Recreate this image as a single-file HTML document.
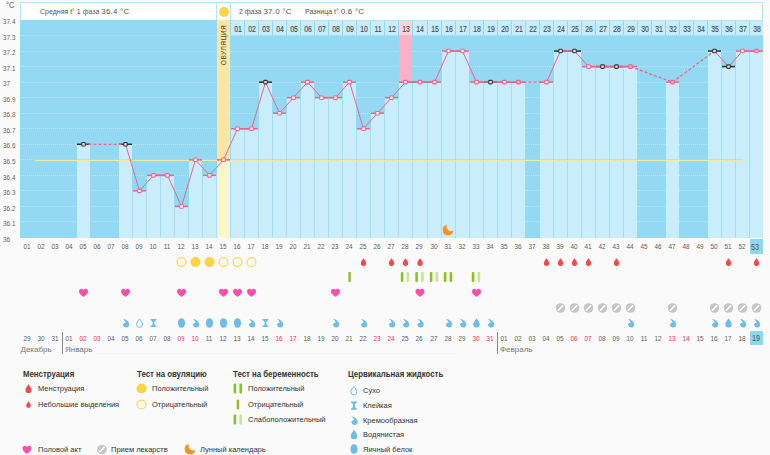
<!DOCTYPE html><html><head><meta charset="utf-8"><style>
*{margin:0;padding:0;box-sizing:border-box}
html,body{width:770px;height:455px;overflow:hidden;background:#fafafa;font-family:"Liberation Sans",sans-serif;color:#555}
.a{position:absolute}
.t{position:absolute;white-space:nowrap;line-height:1}

</style></head><body>
<svg class="a" style="left:0;top:0" width="770" height="455" viewBox="0 0 770 455" shape-rendering="crispEdges"><rect x="20" y="2" width="743" height="18" fill="#fff"/><rect x="20" y="2" width="743" height="1" fill="#b7e4f7"/><rect x="20" y="2" width="1" height="18" fill="#b7e4f7"/><rect x="762" y="2" width="1" height="18" fill="#b7e4f7"/><rect x="216" y="2" width="1" height="18" fill="#b7e4f7"/><rect x="230" y="2" width="1" height="18" fill="#b7e4f7"/><rect x="20" y="20" width="743" height="218" fill="#93d9f3"/><g fill="none" stroke="rgba(255,255,255,0.38)" stroke-width="1" stroke-dasharray="1 1"><line x1="21" y1="221.5" x2="762" y2="221.5"/><line x1="21" y1="206.5" x2="762" y2="206.5"/><line x1="21" y1="190.5" x2="762" y2="190.5"/><line x1="21" y1="175.5" x2="762" y2="175.5"/><line x1="21" y1="159.5" x2="762" y2="159.5"/><line x1="21" y1="144.5" x2="762" y2="144.5"/><line x1="21" y1="128.5" x2="762" y2="128.5"/><line x1="21" y1="113.5" x2="762" y2="113.5"/><line x1="21" y1="97.5" x2="762" y2="97.5"/><line x1="21" y1="82.5" x2="762" y2="82.5"/><line x1="21" y1="66.5" x2="762" y2="66.5"/><line x1="21" y1="51.5" x2="762" y2="51.5"/><line x1="21" y1="35.5" x2="762" y2="35.5"/></g><rect x="77" y="144" width="13" height="94" fill="#caedfc"/><rect x="119" y="144" width="13" height="94" fill="#caedfc"/><rect x="133" y="191" width="13" height="47" fill="#caedfc"/><rect x="147" y="175" width="13" height="63" fill="#caedfc"/><rect x="161" y="175" width="13" height="63" fill="#caedfc"/><rect x="175" y="206" width="13" height="32" fill="#caedfc"/><rect x="189" y="160" width="13" height="78" fill="#caedfc"/><rect x="203" y="175" width="13" height="63" fill="#caedfc"/><rect x="217" y="20" width="13" height="218" fill="#fbe7a3"/><rect x="217" y="160" width="13" height="78" fill="#fdf5cc"/><rect x="231" y="129" width="13" height="109" fill="#caedfc"/><rect x="245" y="129" width="13" height="109" fill="#caedfc"/><rect x="259" y="82" width="13" height="156" fill="#caedfc"/><rect x="273" y="113" width="13" height="125" fill="#caedfc"/><rect x="287" y="98" width="13" height="140" fill="#caedfc"/><rect x="301" y="82" width="13" height="156" fill="#caedfc"/><rect x="315" y="98" width="13" height="140" fill="#caedfc"/><rect x="329" y="98" width="13" height="140" fill="#caedfc"/><rect x="343" y="82" width="13" height="156" fill="#caedfc"/><rect x="357" y="129" width="13" height="109" fill="#caedfc"/><rect x="371" y="113" width="13" height="125" fill="#caedfc"/><rect x="385" y="98" width="13" height="140" fill="#caedfc"/><rect x="399" y="20" width="13" height="62" fill="#fcb0c6"/><rect x="399" y="82" width="13" height="156" fill="#caedfc"/><rect x="413" y="82" width="14" height="156" fill="#caedfc"/><rect x="428" y="82" width="13" height="156" fill="#caedfc"/><rect x="442" y="51" width="13" height="187" fill="#caedfc"/><rect x="456" y="51" width="13" height="187" fill="#caedfc"/><rect x="470" y="82" width="13" height="156" fill="#caedfc"/><rect x="484" y="82" width="13" height="156" fill="#caedfc"/><rect x="498" y="82" width="13" height="156" fill="#caedfc"/><rect x="512" y="82" width="13" height="156" fill="#caedfc"/><rect x="540" y="82" width="13" height="156" fill="#caedfc"/><rect x="554" y="51" width="13" height="187" fill="#caedfc"/><rect x="568" y="51" width="13" height="187" fill="#caedfc"/><rect x="582" y="67" width="13" height="171" fill="#caedfc"/><rect x="596" y="67" width="13" height="171" fill="#caedfc"/><rect x="610" y="67" width="13" height="171" fill="#caedfc"/><rect x="624" y="67" width="13" height="171" fill="#caedfc"/><rect x="666" y="82" width="13" height="156" fill="#caedfc"/><rect x="708" y="51" width="13" height="187" fill="#caedfc"/><rect x="722" y="67" width="13" height="171" fill="#caedfc"/><rect x="736" y="51" width="13" height="187" fill="#caedfc"/><rect x="750" y="51" width="13" height="187" fill="#caedfc"/><rect x="132" y="191" width="1" height="47" fill="#a3dff6"/><rect x="146" y="191" width="1" height="47" fill="#a3dff6"/><rect x="160" y="175" width="1" height="63" fill="#a3dff6"/><rect x="174" y="206" width="1" height="32" fill="#a3dff6"/><rect x="188" y="206" width="1" height="32" fill="#a3dff6"/><rect x="202" y="175" width="1" height="63" fill="#a3dff6"/><rect x="216" y="175" width="1" height="63" fill="#a3dff6"/><rect x="230" y="160" width="1" height="78" fill="#a3dff6"/><rect x="244" y="129" width="1" height="109" fill="#a3dff6"/><rect x="258" y="129" width="1" height="109" fill="#a3dff6"/><rect x="272" y="113" width="1" height="125" fill="#a3dff6"/><rect x="286" y="113" width="1" height="125" fill="#a3dff6"/><rect x="300" y="98" width="1" height="140" fill="#a3dff6"/><rect x="314" y="98" width="1" height="140" fill="#a3dff6"/><rect x="328" y="98" width="1" height="140" fill="#a3dff6"/><rect x="342" y="98" width="1" height="140" fill="#a3dff6"/><rect x="356" y="129" width="1" height="109" fill="#a3dff6"/><rect x="370" y="129" width="1" height="109" fill="#a3dff6"/><rect x="384" y="113" width="1" height="125" fill="#a3dff6"/><rect x="398" y="98" width="1" height="140" fill="#a3dff6"/><rect x="412" y="82" width="1" height="156" fill="#a3dff6"/><rect x="427" y="82" width="1" height="156" fill="#a3dff6"/><rect x="441" y="82" width="1" height="156" fill="#a3dff6"/><rect x="455" y="51" width="1" height="187" fill="#a3dff6"/><rect x="469" y="82" width="1" height="156" fill="#a3dff6"/><rect x="483" y="82" width="1" height="156" fill="#a3dff6"/><rect x="497" y="82" width="1" height="156" fill="#a3dff6"/><rect x="511" y="82" width="1" height="156" fill="#a3dff6"/><rect x="553" y="82" width="1" height="156" fill="#a3dff6"/><rect x="567" y="51" width="1" height="187" fill="#a3dff6"/><rect x="581" y="67" width="1" height="171" fill="#a3dff6"/><rect x="595" y="67" width="1" height="171" fill="#a3dff6"/><rect x="609" y="67" width="1" height="171" fill="#a3dff6"/><rect x="623" y="67" width="1" height="171" fill="#a3dff6"/><rect x="721" y="67" width="1" height="171" fill="#a3dff6"/><rect x="735" y="67" width="1" height="171" fill="#a3dff6"/><rect x="749" y="51" width="1" height="187" fill="#a3dff6"/><rect x="231" y="21" width="13" height="14" fill="#c9ecfb"/><rect x="245" y="21" width="13" height="14" fill="#c9ecfb"/><rect x="259" y="21" width="13" height="14" fill="#c9ecfb"/><rect x="273" y="21" width="13" height="14" fill="#c9ecfb"/><rect x="287" y="21" width="13" height="14" fill="#c9ecfb"/><rect x="301" y="21" width="13" height="14" fill="#c9ecfb"/><rect x="315" y="21" width="13" height="14" fill="#c9ecfb"/><rect x="329" y="21" width="13" height="14" fill="#c9ecfb"/><rect x="343" y="21" width="13" height="14" fill="#c9ecfb"/><rect x="357" y="21" width="13" height="14" fill="#c9ecfb"/><rect x="371" y="21" width="13" height="14" fill="#c9ecfb"/><rect x="385" y="21" width="13" height="14" fill="#c9ecfb"/><rect x="399" y="21" width="13" height="14" fill="#fbd3df"/><rect x="413" y="21" width="14" height="14" fill="#c9ecfb"/><rect x="428" y="21" width="13" height="14" fill="#c9ecfb"/><rect x="442" y="21" width="13" height="14" fill="#c9ecfb"/><rect x="456" y="21" width="13" height="14" fill="#c9ecfb"/><rect x="470" y="21" width="13" height="14" fill="#c9ecfb"/><rect x="484" y="21" width="13" height="14" fill="#c9ecfb"/><rect x="498" y="21" width="13" height="14" fill="#c9ecfb"/><rect x="512" y="21" width="13" height="14" fill="#c9ecfb"/><rect x="526" y="21" width="13" height="14" fill="#c9ecfb"/><rect x="540" y="21" width="13" height="14" fill="#c9ecfb"/><rect x="554" y="21" width="13" height="14" fill="#c9ecfb"/><rect x="568" y="21" width="13" height="14" fill="#c9ecfb"/><rect x="582" y="21" width="13" height="14" fill="#c9ecfb"/><rect x="596" y="21" width="13" height="14" fill="#c9ecfb"/><rect x="610" y="21" width="13" height="14" fill="#c9ecfb"/><rect x="624" y="21" width="13" height="14" fill="#c9ecfb"/><rect x="638" y="21" width="13" height="14" fill="#c9ecfb"/><rect x="652" y="21" width="13" height="14" fill="#c9ecfb"/><rect x="666" y="21" width="13" height="14" fill="#c9ecfb"/><rect x="680" y="21" width="13" height="14" fill="#c9ecfb"/><rect x="694" y="21" width="13" height="14" fill="#c9ecfb"/><rect x="708" y="21" width="13" height="14" fill="#c9ecfb"/><rect x="722" y="21" width="13" height="14" fill="#c9ecfb"/><rect x="736" y="21" width="13" height="14" fill="#c9ecfb"/><rect x="750" y="21" width="13" height="14" fill="#c9ecfb"/><rect x="230" y="20" width="533" height="1" fill="#b7e4f7"/><rect x="217" y="20" width="13" height="140" fill="#fbe7a3"/></svg>
<svg class="a" style="left:0;top:0" width="770" height="455" viewBox="0 0 770 455"><rect x="35" y="159" width="708" height="1" fill="#93d9f3" opacity="0.5"/><rect x="35" y="160" width="708" height="1" fill="#efea9e"/><rect x="77" y="143.53" width="13" height="1.5" fill="#2d2d2d"/><rect x="119" y="143.53" width="13" height="1.5" fill="#2d2d2d"/><rect x="133" y="190.14" width="13" height="1.5" fill="#ec6389"/><rect x="147" y="174.61" width="13" height="1.5" fill="#ec6389"/><rect x="161" y="174.61" width="13" height="1.5" fill="#ec6389"/><rect x="175" y="205.68" width="13" height="1.5" fill="#ec6389"/><rect x="189" y="159.07" width="13" height="1.5" fill="#ec6389"/><rect x="203" y="174.61" width="13" height="1.5" fill="#ec6389"/><rect x="217" y="159.07" width="13" height="1.5" fill="#ec6389"/><rect x="231" y="128.00" width="13" height="1.5" fill="#ec6389"/><rect x="245" y="128.00" width="13" height="1.5" fill="#ec6389"/><rect x="259" y="81.39" width="13" height="1.5" fill="#2d2d2d"/><rect x="273" y="112.46" width="13" height="1.5" fill="#ec6389"/><rect x="287" y="96.93" width="13" height="1.5" fill="#ec6389"/><rect x="301" y="81.39" width="13" height="1.5" fill="#ec6389"/><rect x="315" y="96.93" width="13" height="1.5" fill="#ec6389"/><rect x="329" y="96.93" width="13" height="1.5" fill="#ec6389"/><rect x="343" y="81.39" width="13" height="1.5" fill="#ec6389"/><rect x="357" y="128.00" width="13" height="1.5" fill="#ec6389"/><rect x="371" y="112.46" width="13" height="1.5" fill="#ec6389"/><rect x="385" y="96.93" width="13" height="1.5" fill="#ec6389"/><rect x="399" y="81.39" width="13" height="1.5" fill="#ec6389"/><rect x="413" y="81.39" width="14" height="1.5" fill="#ec6389"/><rect x="428" y="81.39" width="13" height="1.5" fill="#ec6389"/><rect x="442" y="50.32" width="13" height="1.5" fill="#ec6389"/><rect x="456" y="50.32" width="13" height="1.5" fill="#ec6389"/><rect x="470" y="81.39" width="13" height="1.5" fill="#ec6389"/><rect x="484" y="81.39" width="13" height="1.5" fill="#2d2d2d"/><rect x="498" y="81.39" width="13" height="1.5" fill="#ec6389"/><rect x="512" y="81.39" width="13" height="1.5" fill="#ec6389"/><rect x="540" y="81.39" width="13" height="1.5" fill="#ec6389"/><rect x="554" y="50.32" width="13" height="1.5" fill="#2d2d2d"/><rect x="568" y="50.32" width="13" height="1.5" fill="#2d2d2d"/><rect x="582" y="65.85" width="13" height="1.5" fill="#ec6389"/><rect x="596" y="65.85" width="13" height="1.5" fill="#2d2d2d"/><rect x="610" y="65.85" width="13" height="1.5" fill="#2d2d2d"/><rect x="624" y="65.85" width="13" height="1.5" fill="#ec6389"/><rect x="666" y="81.39" width="13" height="1.5" fill="#ec6389"/><rect x="708" y="50.32" width="13" height="1.5" fill="#2d2d2d"/><rect x="722" y="65.85" width="13" height="1.5" fill="#2d2d2d"/><rect x="736" y="50.32" width="13" height="1.5" fill="#ec6389"/><rect x="750" y="50.32" width="13" height="1.5" fill="#ec6389"/><line x1="83.50" y1="144.28" x2="125.50" y2="144.28" stroke="#ec6389" stroke-width="1.3" stroke-dasharray="3 2"/><line x1="125.50" y1="144.28" x2="139.50" y2="190.89" stroke="#ec6389" stroke-width="1.0"/><line x1="139.50" y1="190.89" x2="153.50" y2="175.36" stroke="#ec6389" stroke-width="1.0"/><line x1="153.50" y1="175.36" x2="167.50" y2="175.36" stroke="#ec6389" stroke-width="1.5"/><line x1="167.50" y1="175.36" x2="181.50" y2="206.43" stroke="#ec6389" stroke-width="1.0"/><line x1="181.50" y1="206.43" x2="195.50" y2="159.82" stroke="#ec6389" stroke-width="1.0"/><line x1="195.50" y1="159.82" x2="209.50" y2="175.36" stroke="#ec6389" stroke-width="1.0"/><line x1="209.50" y1="175.36" x2="223.50" y2="159.82" stroke="#ec6389" stroke-width="1.0"/><line x1="223.50" y1="159.82" x2="237.50" y2="128.75" stroke="#ec6389" stroke-width="1.0"/><line x1="237.50" y1="128.75" x2="251.50" y2="128.75" stroke="#ec6389" stroke-width="1.5"/><line x1="251.50" y1="128.75" x2="265.50" y2="82.14" stroke="#ec6389" stroke-width="1.0"/><line x1="265.50" y1="82.14" x2="279.50" y2="113.21" stroke="#ec6389" stroke-width="1.0"/><line x1="279.50" y1="113.21" x2="293.50" y2="97.68" stroke="#ec6389" stroke-width="1.0"/><line x1="293.50" y1="97.68" x2="307.50" y2="82.14" stroke="#ec6389" stroke-width="1.0"/><line x1="307.50" y1="82.14" x2="321.50" y2="97.68" stroke="#ec6389" stroke-width="1.0"/><line x1="321.50" y1="97.68" x2="335.50" y2="97.68" stroke="#ec6389" stroke-width="1.5"/><line x1="335.50" y1="97.68" x2="349.50" y2="82.14" stroke="#ec6389" stroke-width="1.0"/><line x1="349.50" y1="82.14" x2="363.50" y2="128.75" stroke="#ec6389" stroke-width="1.0"/><line x1="363.50" y1="128.75" x2="377.50" y2="113.21" stroke="#ec6389" stroke-width="1.0"/><line x1="377.50" y1="113.21" x2="391.50" y2="97.68" stroke="#ec6389" stroke-width="1.0"/><line x1="391.50" y1="97.68" x2="405.50" y2="82.14" stroke="#ec6389" stroke-width="1.0"/><line x1="405.50" y1="82.14" x2="420.00" y2="82.14" stroke="#ec6389" stroke-width="1.5"/><line x1="420.00" y1="82.14" x2="434.50" y2="82.14" stroke="#ec6389" stroke-width="1.5"/><line x1="434.50" y1="82.14" x2="448.50" y2="51.07" stroke="#ec6389" stroke-width="1.0"/><line x1="448.50" y1="51.07" x2="462.50" y2="51.07" stroke="#ec6389" stroke-width="1.5"/><line x1="462.50" y1="51.07" x2="476.50" y2="82.14" stroke="#ec6389" stroke-width="1.0"/><line x1="476.50" y1="82.14" x2="490.50" y2="82.14" stroke="#ec6389" stroke-width="1.5"/><line x1="490.50" y1="82.14" x2="504.50" y2="82.14" stroke="#ec6389" stroke-width="1.5"/><line x1="504.50" y1="82.14" x2="518.50" y2="82.14" stroke="#ec6389" stroke-width="1.5"/><line x1="518.50" y1="82.14" x2="546.50" y2="82.14" stroke="#ec6389" stroke-width="1.3" stroke-dasharray="3 2"/><line x1="546.50" y1="82.14" x2="560.50" y2="51.07" stroke="#ec6389" stroke-width="1.0"/><line x1="560.50" y1="51.07" x2="574.50" y2="51.07" stroke="#ec6389" stroke-width="1.5"/><line x1="574.50" y1="51.07" x2="588.50" y2="66.60" stroke="#ec6389" stroke-width="1.0"/><line x1="588.50" y1="66.60" x2="602.50" y2="66.60" stroke="#ec6389" stroke-width="1.5"/><line x1="602.50" y1="66.60" x2="616.50" y2="66.60" stroke="#ec6389" stroke-width="1.5"/><line x1="616.50" y1="66.60" x2="630.50" y2="66.60" stroke="#ec6389" stroke-width="1.5"/><line x1="630.50" y1="66.60" x2="672.50" y2="82.14" stroke="#ec6389" stroke-width="1.3" stroke-dasharray="3 2"/><line x1="672.50" y1="82.14" x2="714.50" y2="51.07" stroke="#ec6389" stroke-width="1.3" stroke-dasharray="3 2"/><line x1="714.50" y1="51.07" x2="728.50" y2="66.60" stroke="#ec6389" stroke-width="1.0"/><line x1="728.50" y1="66.60" x2="742.50" y2="51.07" stroke="#ec6389" stroke-width="1.0"/><line x1="742.50" y1="51.07" x2="756.50" y2="51.07" stroke="#ec6389" stroke-width="1.5"/><rect x="81.75" y="142.53" width="3.5" height="3.5" rx="0.9" fill="rgba(255,255,255,0.85)" stroke="#2d2d2d" stroke-width="1.05"/><rect x="123.75" y="142.53" width="3.5" height="3.5" rx="0.9" fill="rgba(255,255,255,0.85)" stroke="#2d2d2d" stroke-width="1.05"/><rect x="137.75" y="189.14" width="3.5" height="3.5" rx="0.7" fill="#fff" stroke="#ec6389" stroke-width="1.05"/><rect x="151.75" y="173.61" width="3.5" height="3.5" rx="0.7" fill="#fff" stroke="#ec6389" stroke-width="1.05"/><rect x="165.75" y="173.61" width="3.5" height="3.5" rx="0.7" fill="#fff" stroke="#ec6389" stroke-width="1.05"/><rect x="179.75" y="204.68" width="3.5" height="3.5" rx="0.7" fill="#fff" stroke="#ec6389" stroke-width="1.05"/><rect x="193.75" y="158.07" width="3.5" height="3.5" rx="0.7" fill="#fff" stroke="#ec6389" stroke-width="1.05"/><rect x="207.75" y="173.61" width="3.5" height="3.5" rx="0.7" fill="#fff" stroke="#ec6389" stroke-width="1.05"/><rect x="221.75" y="158.07" width="3.5" height="3.5" rx="0.7" fill="#fff" stroke="#ec6389" stroke-width="1.05"/><rect x="235.75" y="127.00" width="3.5" height="3.5" rx="0.7" fill="#fff" stroke="#ec6389" stroke-width="1.05"/><rect x="249.75" y="127.00" width="3.5" height="3.5" rx="0.7" fill="#fff" stroke="#ec6389" stroke-width="1.05"/><rect x="263.75" y="80.39" width="3.5" height="3.5" rx="0.9" fill="rgba(255,255,255,0.85)" stroke="#2d2d2d" stroke-width="1.05"/><rect x="277.75" y="111.46" width="3.5" height="3.5" rx="0.7" fill="#fff" stroke="#ec6389" stroke-width="1.05"/><rect x="291.75" y="95.93" width="3.5" height="3.5" rx="0.7" fill="#fff" stroke="#ec6389" stroke-width="1.05"/><rect x="305.75" y="80.39" width="3.5" height="3.5" rx="0.7" fill="#fff" stroke="#ec6389" stroke-width="1.05"/><rect x="319.75" y="95.93" width="3.5" height="3.5" rx="0.7" fill="#fff" stroke="#ec6389" stroke-width="1.05"/><rect x="333.75" y="95.93" width="3.5" height="3.5" rx="0.7" fill="#fff" stroke="#ec6389" stroke-width="1.05"/><rect x="347.75" y="80.39" width="3.5" height="3.5" rx="0.7" fill="#fff" stroke="#ec6389" stroke-width="1.05"/><rect x="361.75" y="127.00" width="3.5" height="3.5" rx="0.7" fill="#fff" stroke="#ec6389" stroke-width="1.05"/><rect x="375.75" y="111.46" width="3.5" height="3.5" rx="0.7" fill="#fff" stroke="#ec6389" stroke-width="1.05"/><rect x="389.75" y="95.93" width="3.5" height="3.5" rx="0.7" fill="#fff" stroke="#ec6389" stroke-width="1.05"/><rect x="403.75" y="80.39" width="3.5" height="3.5" rx="0.7" fill="#fff" stroke="#ec6389" stroke-width="1.05"/><rect x="418.25" y="80.39" width="3.5" height="3.5" rx="0.7" fill="#fff" stroke="#ec6389" stroke-width="1.05"/><rect x="432.75" y="80.39" width="3.5" height="3.5" rx="0.7" fill="#fff" stroke="#ec6389" stroke-width="1.05"/><rect x="446.75" y="49.32" width="3.5" height="3.5" rx="0.7" fill="#fff" stroke="#ec6389" stroke-width="1.05"/><rect x="460.75" y="49.32" width="3.5" height="3.5" rx="0.7" fill="#fff" stroke="#ec6389" stroke-width="1.05"/><rect x="474.75" y="80.39" width="3.5" height="3.5" rx="0.7" fill="#fff" stroke="#ec6389" stroke-width="1.05"/><rect x="488.75" y="80.39" width="3.5" height="3.5" rx="0.9" fill="rgba(255,255,255,0.85)" stroke="#2d2d2d" stroke-width="1.05"/><rect x="502.75" y="80.39" width="3.5" height="3.5" rx="0.7" fill="#fff" stroke="#ec6389" stroke-width="1.05"/><rect x="516.75" y="80.39" width="3.5" height="3.5" rx="0.7" fill="#f7b3c5" stroke="#ec6389" stroke-width="1.05"/><rect x="544.75" y="80.39" width="3.5" height="3.5" rx="0.7" fill="#fff" stroke="#ec6389" stroke-width="1.05"/><rect x="558.75" y="49.32" width="3.5" height="3.5" rx="0.9" fill="rgba(255,255,255,0.85)" stroke="#2d2d2d" stroke-width="1.05"/><rect x="572.75" y="49.32" width="3.5" height="3.5" rx="0.9" fill="rgba(255,255,255,0.85)" stroke="#2d2d2d" stroke-width="1.05"/><rect x="586.75" y="64.85" width="3.5" height="3.5" rx="0.7" fill="#fff" stroke="#ec6389" stroke-width="1.05"/><rect x="600.75" y="64.85" width="3.5" height="3.5" rx="0.9" fill="rgba(255,255,255,0.85)" stroke="#2d2d2d" stroke-width="1.05"/><rect x="614.75" y="64.85" width="3.5" height="3.5" rx="0.9" fill="rgba(255,255,255,0.85)" stroke="#2d2d2d" stroke-width="1.05"/><rect x="628.75" y="64.85" width="3.5" height="3.5" rx="0.7" fill="#f7b3c5" stroke="#ec6389" stroke-width="1.05"/><rect x="670.75" y="80.39" width="3.5" height="3.5" rx="0.7" fill="#f7b3c5" stroke="#ec6389" stroke-width="1.05"/><rect x="712.75" y="49.32" width="3.5" height="3.5" rx="0.9" fill="rgba(255,255,255,0.85)" stroke="#2d2d2d" stroke-width="1.05"/><rect x="726.75" y="64.85" width="3.5" height="3.5" rx="0.9" fill="rgba(255,255,255,0.85)" stroke="#2d2d2d" stroke-width="1.05"/><rect x="740.75" y="49.32" width="3.5" height="3.5" rx="0.7" fill="#fff" stroke="#ec6389" stroke-width="1.05"/><rect x="754.75" y="49.32" width="3.5" height="3.5" rx="0.7" fill="#f7b3c5" stroke="#ec6389" stroke-width="1.05"/></svg>
<div class="t" style="font-size:8.5px;color:#666;top:0.55px;left:6.3px;transform-origin:0 50%;transform:scaleX(0.9);">°C</div>
<div class="t" style="font-size:8px;color:#666;top:235.70px;left:3.4px;transform-origin:0 50%;transform:scaleX(0.8);">36</div>
<div class="t" style="font-size:8px;color:#666;top:220.16px;left:3.4px;transform-origin:0 50%;transform:scaleX(0.8);">36.1</div>
<div class="t" style="font-size:8px;color:#666;top:204.63px;left:3.4px;transform-origin:0 50%;transform:scaleX(0.8);">36.2</div>
<div class="t" style="font-size:8px;color:#666;top:189.09px;left:3.4px;transform-origin:0 50%;transform:scaleX(0.8);">36.3</div>
<div class="t" style="font-size:8px;color:#666;top:173.56px;left:3.4px;transform-origin:0 50%;transform:scaleX(0.8);">36.4</div>
<div class="t" style="font-size:8px;color:#666;top:158.02px;left:3.4px;transform-origin:0 50%;transform:scaleX(0.8);">36.5</div>
<div class="t" style="font-size:8px;color:#666;top:142.48px;left:3.4px;transform-origin:0 50%;transform:scaleX(0.8);">36.6</div>
<div class="t" style="font-size:8px;color:#666;top:126.95px;left:3.4px;transform-origin:0 50%;transform:scaleX(0.8);">36.7</div>
<div class="t" style="font-size:8px;color:#666;top:111.41px;left:3.4px;transform-origin:0 50%;transform:scaleX(0.8);">36.8</div>
<div class="t" style="font-size:8px;color:#666;top:95.88px;left:3.4px;transform-origin:0 50%;transform:scaleX(0.8);">36.9</div>
<div class="t" style="font-size:8px;color:#666;top:80.34px;left:3.4px;transform-origin:0 50%;transform:scaleX(0.8);">37</div>
<div class="t" style="font-size:8px;color:#666;top:64.80px;left:3.4px;transform-origin:0 50%;transform:scaleX(0.8);">37.1</div>
<div class="t" style="font-size:8px;color:#666;top:49.27px;left:3.4px;transform-origin:0 50%;transform:scaleX(0.8);">37.2</div>
<div class="t" style="font-size:8px;color:#666;top:33.73px;left:3.4px;transform-origin:0 50%;transform:scaleX(0.8);">37.3</div>
<div class="t" style="font-size:8px;color:#666;top:18.20px;left:3.4px;transform-origin:0 50%;transform:scaleX(0.8);">37.4</div>
<div class="t" style="left:40px;top:8.2px;font-size:7px;color:#555">Средняя t° 1 фаза <span style="font-size:8px;letter-spacing:0.2px">36.4 °C</span></div>
<div class="a" style="left:218.5px;top:6.5px;width:10.5px;height:10.5px;border-radius:50%;background:#fdd447"></div>
<div class="t" style="left:239px;top:8.2px;font-size:7px;color:#555">2 фаза <span style="font-size:8px;letter-spacing:0.2px">37.0 °C</span></div>
<div class="t" style="left:305px;top:8.2px;font-size:7px;color:#555">Разница t° <span style="font-size:8px;letter-spacing:0.2px">0.6 °C</span></div>
<div class="t" style="left:223.8px;top:45px;font-size:6.6px;letter-spacing:0.45px;color:#444;transform:translate(-50%,-50%) rotate(-90deg)">ОВУЛЯЦИЯ</div>
<div class="t" style="font-size:8.8px;color:#4a4a4a;top:24.80px;left:237.5px;transform-origin:0 50%;transform:scaleX(0.78) translateX(-50%);-webkit-text-stroke:0.15px #4a4a4a;">01</div>
<div class="t" style="font-size:8.8px;color:#4a4a4a;top:24.80px;left:251.5px;transform-origin:0 50%;transform:scaleX(0.78) translateX(-50%);-webkit-text-stroke:0.15px #4a4a4a;">02</div>
<div class="t" style="font-size:8.8px;color:#4a4a4a;top:24.80px;left:265.5px;transform-origin:0 50%;transform:scaleX(0.78) translateX(-50%);-webkit-text-stroke:0.15px #4a4a4a;">03</div>
<div class="t" style="font-size:8.8px;color:#4a4a4a;top:24.80px;left:279.5px;transform-origin:0 50%;transform:scaleX(0.78) translateX(-50%);-webkit-text-stroke:0.15px #4a4a4a;">04</div>
<div class="t" style="font-size:8.8px;color:#4a4a4a;top:24.80px;left:293.5px;transform-origin:0 50%;transform:scaleX(0.78) translateX(-50%);-webkit-text-stroke:0.15px #4a4a4a;">05</div>
<div class="t" style="font-size:8.8px;color:#4a4a4a;top:24.80px;left:307.5px;transform-origin:0 50%;transform:scaleX(0.78) translateX(-50%);-webkit-text-stroke:0.15px #4a4a4a;">06</div>
<div class="t" style="font-size:8.8px;color:#4a4a4a;top:24.80px;left:321.5px;transform-origin:0 50%;transform:scaleX(0.78) translateX(-50%);-webkit-text-stroke:0.15px #4a4a4a;">07</div>
<div class="t" style="font-size:8.8px;color:#4a4a4a;top:24.80px;left:335.5px;transform-origin:0 50%;transform:scaleX(0.78) translateX(-50%);-webkit-text-stroke:0.15px #4a4a4a;">08</div>
<div class="t" style="font-size:8.8px;color:#4a4a4a;top:24.80px;left:349.5px;transform-origin:0 50%;transform:scaleX(0.78) translateX(-50%);-webkit-text-stroke:0.15px #4a4a4a;">09</div>
<div class="t" style="font-size:8.8px;color:#4a4a4a;top:24.80px;left:363.5px;transform-origin:0 50%;transform:scaleX(0.78) translateX(-50%);-webkit-text-stroke:0.15px #4a4a4a;">10</div>
<div class="t" style="font-size:8.8px;color:#4a4a4a;top:24.80px;left:377.5px;transform-origin:0 50%;transform:scaleX(0.78) translateX(-50%);-webkit-text-stroke:0.15px #4a4a4a;">11</div>
<div class="t" style="font-size:8.8px;color:#4a4a4a;top:24.80px;left:391.5px;transform-origin:0 50%;transform:scaleX(0.78) translateX(-50%);-webkit-text-stroke:0.15px #4a4a4a;">12</div>
<div class="t" style="font-size:8.8px;color:#4a4a4a;top:24.80px;left:405.5px;transform-origin:0 50%;transform:scaleX(0.78) translateX(-50%);-webkit-text-stroke:0.15px #4a4a4a;">13</div>
<div class="t" style="font-size:8.8px;color:#4a4a4a;top:24.80px;left:420.0px;transform-origin:0 50%;transform:scaleX(0.78) translateX(-50%);-webkit-text-stroke:0.15px #4a4a4a;">14</div>
<div class="t" style="font-size:8.8px;color:#4a4a4a;top:24.80px;left:434.5px;transform-origin:0 50%;transform:scaleX(0.78) translateX(-50%);-webkit-text-stroke:0.15px #4a4a4a;">15</div>
<div class="t" style="font-size:8.8px;color:#4a4a4a;top:24.80px;left:448.5px;transform-origin:0 50%;transform:scaleX(0.78) translateX(-50%);-webkit-text-stroke:0.15px #4a4a4a;">16</div>
<div class="t" style="font-size:8.8px;color:#4a4a4a;top:24.80px;left:462.5px;transform-origin:0 50%;transform:scaleX(0.78) translateX(-50%);-webkit-text-stroke:0.15px #4a4a4a;">17</div>
<div class="t" style="font-size:8.8px;color:#4a4a4a;top:24.80px;left:476.5px;transform-origin:0 50%;transform:scaleX(0.78) translateX(-50%);-webkit-text-stroke:0.15px #4a4a4a;">18</div>
<div class="t" style="font-size:8.8px;color:#4a4a4a;top:24.80px;left:490.5px;transform-origin:0 50%;transform:scaleX(0.78) translateX(-50%);-webkit-text-stroke:0.15px #4a4a4a;">19</div>
<div class="t" style="font-size:8.8px;color:#4a4a4a;top:24.80px;left:504.5px;transform-origin:0 50%;transform:scaleX(0.78) translateX(-50%);-webkit-text-stroke:0.15px #4a4a4a;">20</div>
<div class="t" style="font-size:8.8px;color:#4a4a4a;top:24.80px;left:518.5px;transform-origin:0 50%;transform:scaleX(0.78) translateX(-50%);-webkit-text-stroke:0.15px #4a4a4a;">21</div>
<div class="t" style="font-size:8.8px;color:#4a4a4a;top:24.80px;left:532.5px;transform-origin:0 50%;transform:scaleX(0.78) translateX(-50%);-webkit-text-stroke:0.15px #4a4a4a;">22</div>
<div class="t" style="font-size:8.8px;color:#4a4a4a;top:24.80px;left:546.5px;transform-origin:0 50%;transform:scaleX(0.78) translateX(-50%);-webkit-text-stroke:0.15px #4a4a4a;">23</div>
<div class="t" style="font-size:8.8px;color:#4a4a4a;top:24.80px;left:560.5px;transform-origin:0 50%;transform:scaleX(0.78) translateX(-50%);-webkit-text-stroke:0.15px #4a4a4a;">24</div>
<div class="t" style="font-size:8.8px;color:#4a4a4a;top:24.80px;left:574.5px;transform-origin:0 50%;transform:scaleX(0.78) translateX(-50%);-webkit-text-stroke:0.15px #4a4a4a;">25</div>
<div class="t" style="font-size:8.8px;color:#4a4a4a;top:24.80px;left:588.5px;transform-origin:0 50%;transform:scaleX(0.78) translateX(-50%);-webkit-text-stroke:0.15px #4a4a4a;">26</div>
<div class="t" style="font-size:8.8px;color:#4a4a4a;top:24.80px;left:602.5px;transform-origin:0 50%;transform:scaleX(0.78) translateX(-50%);-webkit-text-stroke:0.15px #4a4a4a;">27</div>
<div class="t" style="font-size:8.8px;color:#4a4a4a;top:24.80px;left:616.5px;transform-origin:0 50%;transform:scaleX(0.78) translateX(-50%);-webkit-text-stroke:0.15px #4a4a4a;">28</div>
<div class="t" style="font-size:8.8px;color:#4a4a4a;top:24.80px;left:630.5px;transform-origin:0 50%;transform:scaleX(0.78) translateX(-50%);-webkit-text-stroke:0.15px #4a4a4a;">29</div>
<div class="t" style="font-size:8.8px;color:#4a4a4a;top:24.80px;left:644.5px;transform-origin:0 50%;transform:scaleX(0.78) translateX(-50%);-webkit-text-stroke:0.15px #4a4a4a;">30</div>
<div class="t" style="font-size:8.8px;color:#4a4a4a;top:24.80px;left:658.5px;transform-origin:0 50%;transform:scaleX(0.78) translateX(-50%);-webkit-text-stroke:0.15px #4a4a4a;">31</div>
<div class="t" style="font-size:8.8px;color:#4a4a4a;top:24.80px;left:672.5px;transform-origin:0 50%;transform:scaleX(0.78) translateX(-50%);-webkit-text-stroke:0.15px #4a4a4a;">32</div>
<div class="t" style="font-size:8.8px;color:#4a4a4a;top:24.80px;left:686.5px;transform-origin:0 50%;transform:scaleX(0.78) translateX(-50%);-webkit-text-stroke:0.15px #4a4a4a;">33</div>
<div class="t" style="font-size:8.8px;color:#4a4a4a;top:24.80px;left:700.5px;transform-origin:0 50%;transform:scaleX(0.78) translateX(-50%);-webkit-text-stroke:0.15px #4a4a4a;">34</div>
<div class="t" style="font-size:8.8px;color:#4a4a4a;top:24.80px;left:714.5px;transform-origin:0 50%;transform:scaleX(0.78) translateX(-50%);-webkit-text-stroke:0.15px #4a4a4a;">35</div>
<div class="t" style="font-size:8.8px;color:#4a4a4a;top:24.80px;left:728.5px;transform-origin:0 50%;transform:scaleX(0.78) translateX(-50%);-webkit-text-stroke:0.15px #4a4a4a;">36</div>
<div class="t" style="font-size:8.8px;color:#4a4a4a;top:24.80px;left:742.5px;transform-origin:0 50%;transform:scaleX(0.78) translateX(-50%);-webkit-text-stroke:0.15px #4a4a4a;">37</div>
<div class="t" style="font-size:8.8px;color:#4a4a4a;top:24.80px;left:756.5px;transform-origin:0 50%;transform:scaleX(0.78) translateX(-50%);-webkit-text-stroke:0.15px #4a4a4a;">38</div>
<div class="t" style="font-size:7.5px;color:#5c5c5c;top:242.75px;left:26.6px;transform-origin:0 50%;transform:scaleX(0.85) translateX(-50%);">01</div>
<div class="t" style="font-size:7.5px;color:#5c5c5c;top:242.75px;left:40.6px;transform-origin:0 50%;transform:scaleX(0.85) translateX(-50%);">02</div>
<div class="t" style="font-size:7.5px;color:#5c5c5c;top:242.75px;left:54.6px;transform-origin:0 50%;transform:scaleX(0.85) translateX(-50%);">03</div>
<div class="t" style="font-size:7.5px;color:#5c5c5c;top:242.75px;left:68.6px;transform-origin:0 50%;transform:scaleX(0.85) translateX(-50%);">04</div>
<div class="t" style="font-size:7.5px;color:#5c5c5c;top:242.75px;left:82.6px;transform-origin:0 50%;transform:scaleX(0.85) translateX(-50%);">05</div>
<div class="t" style="font-size:7.5px;color:#5c5c5c;top:242.75px;left:96.6px;transform-origin:0 50%;transform:scaleX(0.85) translateX(-50%);">06</div>
<div class="t" style="font-size:7.5px;color:#5c5c5c;top:242.75px;left:110.6px;transform-origin:0 50%;transform:scaleX(0.85) translateX(-50%);">07</div>
<div class="t" style="font-size:7.5px;color:#5c5c5c;top:242.75px;left:124.6px;transform-origin:0 50%;transform:scaleX(0.85) translateX(-50%);">08</div>
<div class="t" style="font-size:7.5px;color:#5c5c5c;top:242.75px;left:138.6px;transform-origin:0 50%;transform:scaleX(0.85) translateX(-50%);">09</div>
<div class="t" style="font-size:7.5px;color:#5c5c5c;top:242.75px;left:152.6px;transform-origin:0 50%;transform:scaleX(0.85) translateX(-50%);">10</div>
<div class="t" style="font-size:7.5px;color:#5c5c5c;top:242.75px;left:166.6px;transform-origin:0 50%;transform:scaleX(0.85) translateX(-50%);">11</div>
<div class="t" style="font-size:7.5px;color:#5c5c5c;top:242.75px;left:180.6px;transform-origin:0 50%;transform:scaleX(0.85) translateX(-50%);">12</div>
<div class="t" style="font-size:7.5px;color:#5c5c5c;top:242.75px;left:194.6px;transform-origin:0 50%;transform:scaleX(0.85) translateX(-50%);">13</div>
<div class="t" style="font-size:7.5px;color:#5c5c5c;top:242.75px;left:208.6px;transform-origin:0 50%;transform:scaleX(0.85) translateX(-50%);">14</div>
<div class="t" style="font-size:7.5px;color:#5c5c5c;top:242.75px;left:222.6px;transform-origin:0 50%;transform:scaleX(0.85) translateX(-50%);">15</div>
<div class="t" style="font-size:7.5px;color:#5c5c5c;top:242.75px;left:236.6px;transform-origin:0 50%;transform:scaleX(0.85) translateX(-50%);">16</div>
<div class="t" style="font-size:7.5px;color:#5c5c5c;top:242.75px;left:250.6px;transform-origin:0 50%;transform:scaleX(0.85) translateX(-50%);">17</div>
<div class="t" style="font-size:7.5px;color:#5c5c5c;top:242.75px;left:264.6px;transform-origin:0 50%;transform:scaleX(0.85) translateX(-50%);">18</div>
<div class="t" style="font-size:7.5px;color:#5c5c5c;top:242.75px;left:278.6px;transform-origin:0 50%;transform:scaleX(0.85) translateX(-50%);">19</div>
<div class="t" style="font-size:7.5px;color:#5c5c5c;top:242.75px;left:292.6px;transform-origin:0 50%;transform:scaleX(0.85) translateX(-50%);">20</div>
<div class="t" style="font-size:7.5px;color:#5c5c5c;top:242.75px;left:306.6px;transform-origin:0 50%;transform:scaleX(0.85) translateX(-50%);">21</div>
<div class="t" style="font-size:7.5px;color:#5c5c5c;top:242.75px;left:320.6px;transform-origin:0 50%;transform:scaleX(0.85) translateX(-50%);">22</div>
<div class="t" style="font-size:7.5px;color:#5c5c5c;top:242.75px;left:334.6px;transform-origin:0 50%;transform:scaleX(0.85) translateX(-50%);">23</div>
<div class="t" style="font-size:7.5px;color:#5c5c5c;top:242.75px;left:348.6px;transform-origin:0 50%;transform:scaleX(0.85) translateX(-50%);">24</div>
<div class="t" style="font-size:7.5px;color:#5c5c5c;top:242.75px;left:362.6px;transform-origin:0 50%;transform:scaleX(0.85) translateX(-50%);">25</div>
<div class="t" style="font-size:7.5px;color:#5c5c5c;top:242.75px;left:376.6px;transform-origin:0 50%;transform:scaleX(0.85) translateX(-50%);">26</div>
<div class="t" style="font-size:7.5px;color:#5c5c5c;top:242.75px;left:390.6px;transform-origin:0 50%;transform:scaleX(0.85) translateX(-50%);">27</div>
<div class="t" style="font-size:7.5px;color:#5c5c5c;top:242.75px;left:404.6px;transform-origin:0 50%;transform:scaleX(0.85) translateX(-50%);">28</div>
<div class="t" style="font-size:7.5px;color:#5c5c5c;top:242.75px;left:419.1px;transform-origin:0 50%;transform:scaleX(0.85) translateX(-50%);">29</div>
<div class="t" style="font-size:7.5px;color:#5c5c5c;top:242.75px;left:433.6px;transform-origin:0 50%;transform:scaleX(0.85) translateX(-50%);">30</div>
<div class="t" style="font-size:7.5px;color:#5c5c5c;top:242.75px;left:447.6px;transform-origin:0 50%;transform:scaleX(0.85) translateX(-50%);">31</div>
<div class="t" style="font-size:7.5px;color:#5c5c5c;top:242.75px;left:461.6px;transform-origin:0 50%;transform:scaleX(0.85) translateX(-50%);">32</div>
<div class="t" style="font-size:7.5px;color:#5c5c5c;top:242.75px;left:475.6px;transform-origin:0 50%;transform:scaleX(0.85) translateX(-50%);">33</div>
<div class="t" style="font-size:7.5px;color:#5c5c5c;top:242.75px;left:489.6px;transform-origin:0 50%;transform:scaleX(0.85) translateX(-50%);">34</div>
<div class="t" style="font-size:7.5px;color:#5c5c5c;top:242.75px;left:503.6px;transform-origin:0 50%;transform:scaleX(0.85) translateX(-50%);">35</div>
<div class="t" style="font-size:7.5px;color:#5c5c5c;top:242.75px;left:517.6px;transform-origin:0 50%;transform:scaleX(0.85) translateX(-50%);">36</div>
<div class="t" style="font-size:7.5px;color:#5c5c5c;top:242.75px;left:531.6px;transform-origin:0 50%;transform:scaleX(0.85) translateX(-50%);">37</div>
<div class="t" style="font-size:7.5px;color:#5c5c5c;top:242.75px;left:545.6px;transform-origin:0 50%;transform:scaleX(0.85) translateX(-50%);">38</div>
<div class="t" style="font-size:7.5px;color:#5c5c5c;top:242.75px;left:559.6px;transform-origin:0 50%;transform:scaleX(0.85) translateX(-50%);">39</div>
<div class="t" style="font-size:7.5px;color:#5c5c5c;top:242.75px;left:573.6px;transform-origin:0 50%;transform:scaleX(0.85) translateX(-50%);">40</div>
<div class="t" style="font-size:7.5px;color:#5c5c5c;top:242.75px;left:587.6px;transform-origin:0 50%;transform:scaleX(0.85) translateX(-50%);">41</div>
<div class="t" style="font-size:7.5px;color:#5c5c5c;top:242.75px;left:601.6px;transform-origin:0 50%;transform:scaleX(0.85) translateX(-50%);">42</div>
<div class="t" style="font-size:7.5px;color:#5c5c5c;top:242.75px;left:615.6px;transform-origin:0 50%;transform:scaleX(0.85) translateX(-50%);">43</div>
<div class="t" style="font-size:7.5px;color:#5c5c5c;top:242.75px;left:629.6px;transform-origin:0 50%;transform:scaleX(0.85) translateX(-50%);">44</div>
<div class="t" style="font-size:7.5px;color:#5c5c5c;top:242.75px;left:643.6px;transform-origin:0 50%;transform:scaleX(0.85) translateX(-50%);">45</div>
<div class="t" style="font-size:7.5px;color:#5c5c5c;top:242.75px;left:657.6px;transform-origin:0 50%;transform:scaleX(0.85) translateX(-50%);">46</div>
<div class="t" style="font-size:7.5px;color:#5c5c5c;top:242.75px;left:671.6px;transform-origin:0 50%;transform:scaleX(0.85) translateX(-50%);">47</div>
<div class="t" style="font-size:7.5px;color:#5c5c5c;top:242.75px;left:685.6px;transform-origin:0 50%;transform:scaleX(0.85) translateX(-50%);">48</div>
<div class="t" style="font-size:7.5px;color:#5c5c5c;top:242.75px;left:699.6px;transform-origin:0 50%;transform:scaleX(0.85) translateX(-50%);">49</div>
<div class="t" style="font-size:7.5px;color:#5c5c5c;top:242.75px;left:713.6px;transform-origin:0 50%;transform:scaleX(0.85) translateX(-50%);">50</div>
<div class="t" style="font-size:7.5px;color:#5c5c5c;top:242.75px;left:727.6px;transform-origin:0 50%;transform:scaleX(0.85) translateX(-50%);">51</div>
<div class="t" style="font-size:7.5px;color:#5c5c5c;top:242.75px;left:741.6px;transform-origin:0 50%;transform:scaleX(0.85) translateX(-50%);">52</div>
<div class="a" style="left:750px;top:239px;width:13px;height:15px;background:#8fd6f1"></div>
<div class="t" style="font-size:9.2px;color:#555;top:242.60px;left:755.3px;transform-origin:0 50%;transform:scaleX(0.8) translateX(-50%);">53</div>
<div class="t" style="font-size:7.5px;color:#5c5c5c;top:335.25px;left:26.6px;transform-origin:0 50%;transform:scaleX(0.85) translateX(-50%);">29</div>
<div class="t" style="font-size:7.5px;color:#5c5c5c;top:335.25px;left:40.6px;transform-origin:0 50%;transform:scaleX(0.85) translateX(-50%);">30</div>
<div class="t" style="font-size:7.5px;color:#5c5c5c;top:335.25px;left:54.6px;transform-origin:0 50%;transform:scaleX(0.85) translateX(-50%);">31</div>
<div class="t" style="font-size:7.5px;color:#5c5c5c;top:335.25px;left:68.6px;transform-origin:0 50%;transform:scaleX(0.85) translateX(-50%);">01</div>
<div class="t" style="font-size:7.5px;color:#ef2d5e;top:335.25px;left:82.6px;transform-origin:0 50%;transform:scaleX(0.85) translateX(-50%);">02</div>
<div class="t" style="font-size:7.5px;color:#ef2d5e;top:335.25px;left:96.6px;transform-origin:0 50%;transform:scaleX(0.85) translateX(-50%);">03</div>
<div class="t" style="font-size:7.5px;color:#5c5c5c;top:335.25px;left:110.6px;transform-origin:0 50%;transform:scaleX(0.85) translateX(-50%);">04</div>
<div class="t" style="font-size:7.5px;color:#5c5c5c;top:335.25px;left:124.6px;transform-origin:0 50%;transform:scaleX(0.85) translateX(-50%);">05</div>
<div class="t" style="font-size:7.5px;color:#5c5c5c;top:335.25px;left:138.6px;transform-origin:0 50%;transform:scaleX(0.85) translateX(-50%);">06</div>
<div class="t" style="font-size:7.5px;color:#5c5c5c;top:335.25px;left:152.6px;transform-origin:0 50%;transform:scaleX(0.85) translateX(-50%);">07</div>
<div class="t" style="font-size:7.5px;color:#5c5c5c;top:335.25px;left:166.6px;transform-origin:0 50%;transform:scaleX(0.85) translateX(-50%);">08</div>
<div class="t" style="font-size:7.5px;color:#ef2d5e;top:335.25px;left:180.6px;transform-origin:0 50%;transform:scaleX(0.85) translateX(-50%);">09</div>
<div class="t" style="font-size:7.5px;color:#ef2d5e;top:335.25px;left:194.6px;transform-origin:0 50%;transform:scaleX(0.85) translateX(-50%);">10</div>
<div class="t" style="font-size:7.5px;color:#5c5c5c;top:335.25px;left:208.6px;transform-origin:0 50%;transform:scaleX(0.85) translateX(-50%);">11</div>
<div class="t" style="font-size:7.5px;color:#5c5c5c;top:335.25px;left:222.6px;transform-origin:0 50%;transform:scaleX(0.85) translateX(-50%);">12</div>
<div class="t" style="font-size:7.5px;color:#5c5c5c;top:335.25px;left:236.6px;transform-origin:0 50%;transform:scaleX(0.85) translateX(-50%);">13</div>
<div class="t" style="font-size:7.5px;color:#5c5c5c;top:335.25px;left:250.6px;transform-origin:0 50%;transform:scaleX(0.85) translateX(-50%);">14</div>
<div class="t" style="font-size:7.5px;color:#5c5c5c;top:335.25px;left:264.6px;transform-origin:0 50%;transform:scaleX(0.85) translateX(-50%);">15</div>
<div class="t" style="font-size:7.5px;color:#ef2d5e;top:335.25px;left:278.6px;transform-origin:0 50%;transform:scaleX(0.85) translateX(-50%);">16</div>
<div class="t" style="font-size:7.5px;color:#ef2d5e;top:335.25px;left:292.6px;transform-origin:0 50%;transform:scaleX(0.85) translateX(-50%);">17</div>
<div class="t" style="font-size:7.5px;color:#5c5c5c;top:335.25px;left:306.6px;transform-origin:0 50%;transform:scaleX(0.85) translateX(-50%);">18</div>
<div class="t" style="font-size:7.5px;color:#5c5c5c;top:335.25px;left:320.6px;transform-origin:0 50%;transform:scaleX(0.85) translateX(-50%);">19</div>
<div class="t" style="font-size:7.5px;color:#5c5c5c;top:335.25px;left:334.6px;transform-origin:0 50%;transform:scaleX(0.85) translateX(-50%);">20</div>
<div class="t" style="font-size:7.5px;color:#5c5c5c;top:335.25px;left:348.6px;transform-origin:0 50%;transform:scaleX(0.85) translateX(-50%);">21</div>
<div class="t" style="font-size:7.5px;color:#5c5c5c;top:335.25px;left:362.6px;transform-origin:0 50%;transform:scaleX(0.85) translateX(-50%);">22</div>
<div class="t" style="font-size:7.5px;color:#ef2d5e;top:335.25px;left:376.6px;transform-origin:0 50%;transform:scaleX(0.85) translateX(-50%);">23</div>
<div class="t" style="font-size:7.5px;color:#ef2d5e;top:335.25px;left:390.6px;transform-origin:0 50%;transform:scaleX(0.85) translateX(-50%);">24</div>
<div class="t" style="font-size:7.5px;color:#5c5c5c;top:335.25px;left:404.6px;transform-origin:0 50%;transform:scaleX(0.85) translateX(-50%);">25</div>
<div class="t" style="font-size:7.5px;color:#5c5c5c;top:335.25px;left:419.1px;transform-origin:0 50%;transform:scaleX(0.85) translateX(-50%);">26</div>
<div class="t" style="font-size:7.5px;color:#5c5c5c;top:335.25px;left:433.6px;transform-origin:0 50%;transform:scaleX(0.85) translateX(-50%);">27</div>
<div class="t" style="font-size:7.5px;color:#5c5c5c;top:335.25px;left:447.6px;transform-origin:0 50%;transform:scaleX(0.85) translateX(-50%);">28</div>
<div class="t" style="font-size:7.5px;color:#5c5c5c;top:335.25px;left:461.6px;transform-origin:0 50%;transform:scaleX(0.85) translateX(-50%);">29</div>
<div class="t" style="font-size:7.5px;color:#ef2d5e;top:335.25px;left:475.6px;transform-origin:0 50%;transform:scaleX(0.85) translateX(-50%);">30</div>
<div class="t" style="font-size:7.5px;color:#ef2d5e;top:335.25px;left:489.6px;transform-origin:0 50%;transform:scaleX(0.85) translateX(-50%);">31</div>
<div class="t" style="font-size:7.5px;color:#5c5c5c;top:335.25px;left:503.6px;transform-origin:0 50%;transform:scaleX(0.85) translateX(-50%);">01</div>
<div class="t" style="font-size:7.5px;color:#5c5c5c;top:335.25px;left:517.6px;transform-origin:0 50%;transform:scaleX(0.85) translateX(-50%);">02</div>
<div class="t" style="font-size:7.5px;color:#5c5c5c;top:335.25px;left:531.6px;transform-origin:0 50%;transform:scaleX(0.85) translateX(-50%);">03</div>
<div class="t" style="font-size:7.5px;color:#5c5c5c;top:335.25px;left:545.6px;transform-origin:0 50%;transform:scaleX(0.85) translateX(-50%);">04</div>
<div class="t" style="font-size:7.5px;color:#5c5c5c;top:335.25px;left:559.6px;transform-origin:0 50%;transform:scaleX(0.85) translateX(-50%);">05</div>
<div class="t" style="font-size:7.5px;color:#ef2d5e;top:335.25px;left:573.6px;transform-origin:0 50%;transform:scaleX(0.85) translateX(-50%);">06</div>
<div class="t" style="font-size:7.5px;color:#ef2d5e;top:335.25px;left:587.6px;transform-origin:0 50%;transform:scaleX(0.85) translateX(-50%);">07</div>
<div class="t" style="font-size:7.5px;color:#5c5c5c;top:335.25px;left:601.6px;transform-origin:0 50%;transform:scaleX(0.85) translateX(-50%);">08</div>
<div class="t" style="font-size:7.5px;color:#5c5c5c;top:335.25px;left:615.6px;transform-origin:0 50%;transform:scaleX(0.85) translateX(-50%);">09</div>
<div class="t" style="font-size:7.5px;color:#5c5c5c;top:335.25px;left:629.6px;transform-origin:0 50%;transform:scaleX(0.85) translateX(-50%);">10</div>
<div class="t" style="font-size:7.5px;color:#5c5c5c;top:335.25px;left:643.6px;transform-origin:0 50%;transform:scaleX(0.85) translateX(-50%);">11</div>
<div class="t" style="font-size:7.5px;color:#5c5c5c;top:335.25px;left:657.6px;transform-origin:0 50%;transform:scaleX(0.85) translateX(-50%);">12</div>
<div class="t" style="font-size:7.5px;color:#ef2d5e;top:335.25px;left:671.6px;transform-origin:0 50%;transform:scaleX(0.85) translateX(-50%);">13</div>
<div class="t" style="font-size:7.5px;color:#ef2d5e;top:335.25px;left:685.6px;transform-origin:0 50%;transform:scaleX(0.85) translateX(-50%);">14</div>
<div class="t" style="font-size:7.5px;color:#5c5c5c;top:335.25px;left:699.6px;transform-origin:0 50%;transform:scaleX(0.85) translateX(-50%);">15</div>
<div class="t" style="font-size:7.5px;color:#5c5c5c;top:335.25px;left:713.6px;transform-origin:0 50%;transform:scaleX(0.85) translateX(-50%);">16</div>
<div class="t" style="font-size:7.5px;color:#5c5c5c;top:335.25px;left:727.6px;transform-origin:0 50%;transform:scaleX(0.85) translateX(-50%);">17</div>
<div class="t" style="font-size:7.5px;color:#5c5c5c;top:335.25px;left:741.6px;transform-origin:0 50%;transform:scaleX(0.85) translateX(-50%);">18</div>
<div class="a" style="left:750px;top:331px;width:13px;height:14px;background:#8fd6f1"></div>
<div class="t" style="font-size:9.2px;color:#555;top:333.90px;left:756.0px;transform-origin:0 50%;transform:scaleX(0.8) translateX(-50%);">19</div>
<div class="a" style="left:62px;top:332px;width:1px;height:22px;background:#888"></div>
<div class="a" style="left:497px;top:332px;width:1px;height:22px;background:#888"></div>
<div class="t" style="font-size:8px;color:#777;top:346.20px;left:20.5px;transform-origin:0 50%;">Декабрь</div>
<div class="t" style="font-size:8px;color:#777;top:346.20px;left:65px;transform-origin:0 50%;">Январь</div>
<div class="t" style="font-size:8px;color:#777;top:346.20px;left:500px;transform-origin:0 50%;">Февраль</div>
<div class="a" style="left:95px;top:353px;width:360px;height:1px;background:repeating-linear-gradient(90deg,#efefef 0 1px,transparent 1px 2px)"></div>
<svg class="a" style="left:0;top:0" width="770" height="455" viewBox="0 0 770 455"><circle cx="181.50" cy="262.10" r="4.45" fill="none" stroke="#fdd85c" stroke-width="1.2"/><circle cx="195.50" cy="262.10" r="5.0" fill="#fdd447"/><circle cx="209.50" cy="262.10" r="5.0" fill="#fdd447"/><circle cx="223.50" cy="262.10" r="4.45" fill="none" stroke="#fdd85c" stroke-width="1.2"/><circle cx="237.50" cy="262.10" r="4.45" fill="none" stroke="#fdd85c" stroke-width="1.2"/><circle cx="251.50" cy="262.10" r="4.45" fill="none" stroke="#fdd85c" stroke-width="1.2"/><path transform="translate(363.50,262.00) scale(1.02)" d="M0,-3.6 C0.8,-2.2 2.6,-0.6 2.6,1.2 A2.6,2.6 0 0 1 -2.6,1.2 C-2.6,-0.6 -0.8,-2.2 0,-3.6Z" fill="#f64a4a"/><path transform="translate(391.50,262.00) scale(1.02)" d="M0,-3.6 C0.8,-2.2 2.6,-0.6 2.6,1.2 A2.6,2.6 0 0 1 -2.6,1.2 C-2.6,-0.6 -0.8,-2.2 0,-3.6Z" fill="#f64a4a"/><path transform="translate(405.50,262.00) scale(1.02)" d="M0,-3.6 C0.8,-2.2 2.6,-0.6 2.6,1.2 A2.6,2.6 0 0 1 -2.6,1.2 C-2.6,-0.6 -0.8,-2.2 0,-3.6Z" fill="#f64a4a"/><path transform="translate(420.00,262.00) scale(1.02)" d="M0,-3.6 C0.8,-2.2 2.6,-0.6 2.6,1.2 A2.6,2.6 0 0 1 -2.6,1.2 C-2.6,-0.6 -0.8,-2.2 0,-3.6Z" fill="#f64a4a"/><path transform="translate(546.50,262.00) scale(1.02)" d="M0,-3.6 C0.8,-2.2 2.6,-0.6 2.6,1.2 A2.6,2.6 0 0 1 -2.6,1.2 C-2.6,-0.6 -0.8,-2.2 0,-3.6Z" fill="#f64a4a"/><path transform="translate(560.50,262.00) scale(1.02)" d="M0,-3.6 C0.8,-2.2 2.6,-0.6 2.6,1.2 A2.6,2.6 0 0 1 -2.6,1.2 C-2.6,-0.6 -0.8,-2.2 0,-3.6Z" fill="#f64a4a"/><path transform="translate(574.50,262.00) scale(1.02)" d="M0,-3.6 C0.8,-2.2 2.6,-0.6 2.6,1.2 A2.6,2.6 0 0 1 -2.6,1.2 C-2.6,-0.6 -0.8,-2.2 0,-3.6Z" fill="#f64a4a"/><path transform="translate(588.50,262.00) scale(1.02)" d="M0,-3.6 C0.8,-2.2 2.6,-0.6 2.6,1.2 A2.6,2.6 0 0 1 -2.6,1.2 C-2.6,-0.6 -0.8,-2.2 0,-3.6Z" fill="#f64a4a"/><path transform="translate(616.50,262.00) scale(1.02)" d="M0,-3.6 C0.8,-2.2 2.6,-0.6 2.6,1.2 A2.6,2.6 0 0 1 -2.6,1.2 C-2.6,-0.6 -0.8,-2.2 0,-3.6Z" fill="#f64a4a"/><path transform="translate(728.50,262.00) scale(1.02)" d="M0,-3.6 C0.8,-2.2 2.6,-0.6 2.6,1.2 A2.6,2.6 0 0 1 -2.6,1.2 C-2.6,-0.6 -0.8,-2.2 0,-3.6Z" fill="#f64a4a"/><path transform="translate(756.50,262.00) scale(1.02)" d="M0,-3.6 C0.8,-2.2 2.6,-0.6 2.6,1.2 A2.6,2.6 0 0 1 -2.6,1.2 C-2.6,-0.6 -0.8,-2.2 0,-3.6Z" fill="#f64a4a"/><rect x="348.40" y="272.00" width="2.4" height="10" rx="1" fill="#8cc21a"/><rect x="400.80" y="272.00" width="2.6" height="10" rx="1" fill="#8cc21a"/><rect x="406.60" y="272.00" width="2.6" height="10" rx="1" fill="#c9e39a"/><rect x="415.30" y="272.00" width="2.6" height="10" rx="1" fill="#8cc21a"/><rect x="421.10" y="272.00" width="2.6" height="10" rx="1" fill="#c9e39a"/><rect x="429.80" y="272.00" width="2.6" height="10" rx="1" fill="#8cc21a"/><rect x="435.60" y="272.00" width="2.6" height="10" rx="1" fill="#c9e39a"/><rect x="443.80" y="272.00" width="2.6" height="10" rx="1" fill="#8cc21a"/><rect x="449.60" y="272.00" width="2.6" height="10" rx="1" fill="#8cc21a"/><rect x="471.80" y="272.00" width="2.6" height="10" rx="1" fill="#8cc21a"/><rect x="477.60" y="272.00" width="2.6" height="10" rx="1" fill="#c9e39a"/><path transform="translate(83.50,292.60)" d="M0,4.1 C-1.2,3.4 -4.5,1.4 -4.5,-1.1 C-4.5,-2.9 -3.3,-3.8 -2.2,-3.8 C-1.1,-3.8 -0.4,-3.2 0,-2.4 C0.4,-3.2 1.1,-3.8 2.2,-3.8 C3.3,-3.8 4.5,-2.9 4.5,-1.1 C4.5,1.4 1.2,3.4 0,4.1Z" fill="#ff4fa8"/><path transform="translate(125.50,292.60)" d="M0,4.1 C-1.2,3.4 -4.5,1.4 -4.5,-1.1 C-4.5,-2.9 -3.3,-3.8 -2.2,-3.8 C-1.1,-3.8 -0.4,-3.2 0,-2.4 C0.4,-3.2 1.1,-3.8 2.2,-3.8 C3.3,-3.8 4.5,-2.9 4.5,-1.1 C4.5,1.4 1.2,3.4 0,4.1Z" fill="#ff4fa8"/><path transform="translate(181.50,292.60)" d="M0,4.1 C-1.2,3.4 -4.5,1.4 -4.5,-1.1 C-4.5,-2.9 -3.3,-3.8 -2.2,-3.8 C-1.1,-3.8 -0.4,-3.2 0,-2.4 C0.4,-3.2 1.1,-3.8 2.2,-3.8 C3.3,-3.8 4.5,-2.9 4.5,-1.1 C4.5,1.4 1.2,3.4 0,4.1Z" fill="#ff4fa8"/><path transform="translate(223.50,292.60)" d="M0,4.1 C-1.2,3.4 -4.5,1.4 -4.5,-1.1 C-4.5,-2.9 -3.3,-3.8 -2.2,-3.8 C-1.1,-3.8 -0.4,-3.2 0,-2.4 C0.4,-3.2 1.1,-3.8 2.2,-3.8 C3.3,-3.8 4.5,-2.9 4.5,-1.1 C4.5,1.4 1.2,3.4 0,4.1Z" fill="#ff4fa8"/><path transform="translate(237.50,292.60)" d="M0,4.1 C-1.2,3.4 -4.5,1.4 -4.5,-1.1 C-4.5,-2.9 -3.3,-3.8 -2.2,-3.8 C-1.1,-3.8 -0.4,-3.2 0,-2.4 C0.4,-3.2 1.1,-3.8 2.2,-3.8 C3.3,-3.8 4.5,-2.9 4.5,-1.1 C4.5,1.4 1.2,3.4 0,4.1Z" fill="#ff4fa8"/><path transform="translate(251.50,292.60)" d="M0,4.1 C-1.2,3.4 -4.5,1.4 -4.5,-1.1 C-4.5,-2.9 -3.3,-3.8 -2.2,-3.8 C-1.1,-3.8 -0.4,-3.2 0,-2.4 C0.4,-3.2 1.1,-3.8 2.2,-3.8 C3.3,-3.8 4.5,-2.9 4.5,-1.1 C4.5,1.4 1.2,3.4 0,4.1Z" fill="#ff4fa8"/><path transform="translate(335.50,292.60)" d="M0,4.1 C-1.2,3.4 -4.5,1.4 -4.5,-1.1 C-4.5,-2.9 -3.3,-3.8 -2.2,-3.8 C-1.1,-3.8 -0.4,-3.2 0,-2.4 C0.4,-3.2 1.1,-3.8 2.2,-3.8 C3.3,-3.8 4.5,-2.9 4.5,-1.1 C4.5,1.4 1.2,3.4 0,4.1Z" fill="#ff4fa8"/><path transform="translate(420.00,292.60)" d="M0,4.1 C-1.2,3.4 -4.5,1.4 -4.5,-1.1 C-4.5,-2.9 -3.3,-3.8 -2.2,-3.8 C-1.1,-3.8 -0.4,-3.2 0,-2.4 C0.4,-3.2 1.1,-3.8 2.2,-3.8 C3.3,-3.8 4.5,-2.9 4.5,-1.1 C4.5,1.4 1.2,3.4 0,4.1Z" fill="#ff4fa8"/><path transform="translate(476.50,292.60)" d="M0,4.1 C-1.2,3.4 -4.5,1.4 -4.5,-1.1 C-4.5,-2.9 -3.3,-3.8 -2.2,-3.8 C-1.1,-3.8 -0.4,-3.2 0,-2.4 C0.4,-3.2 1.1,-3.8 2.2,-3.8 C3.3,-3.8 4.5,-2.9 4.5,-1.1 C4.5,1.4 1.2,3.4 0,4.1Z" fill="#ff4fa8"/><circle cx="560.50" cy="308.00" r="4.8" fill="#c6c6c6"/><line x1="558.30" y1="310.20" x2="562.70" y2="305.80" stroke="#fff" stroke-width="1.6" stroke-linecap="round"/><circle cx="574.50" cy="308.00" r="4.8" fill="#c6c6c6"/><line x1="572.30" y1="310.20" x2="576.70" y2="305.80" stroke="#fff" stroke-width="1.6" stroke-linecap="round"/><circle cx="588.50" cy="308.00" r="4.8" fill="#c6c6c6"/><line x1="586.30" y1="310.20" x2="590.70" y2="305.80" stroke="#fff" stroke-width="1.6" stroke-linecap="round"/><circle cx="602.50" cy="308.00" r="4.8" fill="#c6c6c6"/><line x1="600.30" y1="310.20" x2="604.70" y2="305.80" stroke="#fff" stroke-width="1.6" stroke-linecap="round"/><circle cx="616.50" cy="308.00" r="4.8" fill="#c6c6c6"/><line x1="614.30" y1="310.20" x2="618.70" y2="305.80" stroke="#fff" stroke-width="1.6" stroke-linecap="round"/><circle cx="630.50" cy="308.00" r="4.8" fill="#c6c6c6"/><line x1="628.30" y1="310.20" x2="632.70" y2="305.80" stroke="#fff" stroke-width="1.6" stroke-linecap="round"/><circle cx="672.50" cy="308.00" r="4.8" fill="#c6c6c6"/><line x1="670.30" y1="310.20" x2="674.70" y2="305.80" stroke="#fff" stroke-width="1.6" stroke-linecap="round"/><circle cx="714.50" cy="308.00" r="4.8" fill="#c6c6c6"/><line x1="712.30" y1="310.20" x2="716.70" y2="305.80" stroke="#fff" stroke-width="1.6" stroke-linecap="round"/><circle cx="728.50" cy="308.00" r="4.8" fill="#c6c6c6"/><line x1="726.30" y1="310.20" x2="730.70" y2="305.80" stroke="#fff" stroke-width="1.6" stroke-linecap="round"/><circle cx="742.50" cy="308.00" r="4.8" fill="#c6c6c6"/><line x1="740.30" y1="310.20" x2="744.70" y2="305.80" stroke="#fff" stroke-width="1.6" stroke-linecap="round"/><circle cx="756.50" cy="308.00" r="4.8" fill="#c6c6c6"/><line x1="754.30" y1="310.20" x2="758.70" y2="305.80" stroke="#fff" stroke-width="1.6" stroke-linecap="round"/><path transform="translate(125.50,323.00)" d="M-2.9,-4.2 C0.6,-3.6 3.7,-1.2 3.7,1.4 A3.2,3.2 0 0 1 -2.6,2.1 C-2.6,0.6 -1.2,-0.4 0.1,-0.3 C-0.2,-1.8 -1.2,-3.1 -2.9,-4.2Z" fill="#6cbde9"/><path transform="translate(139.50,323.00)" d="M0,-4.2 C1,-2.6 3,-0.8 3,1.3 A3,3 0 0 1 -3,1.3 C-3,-0.8 -1,-2.6 0,-4.2Z" fill="#fff" stroke="#6cbde9" stroke-width="1"/><path transform="translate(153.50,323.00)" d="M-3,-4.1 H3 V-3.1 C1.3,-2.3 0.75,-1.1 0.75,0 C0.75,1.1 1.3,2.3 3,3.1 V4.1 H-3 V3.1 C-1.3,2.3 -0.75,1.1 -0.75,0 C-0.75,-1.1 -1.3,-2.3 -3,-3.1Z" fill="#6cbde9"/><ellipse cx="181.50" cy="323.00" rx="3.6" ry="4.8" fill="#6cbde9"/><path transform="translate(195.50,323.00)" d="M-2.9,-4.2 C0.6,-3.6 3.7,-1.2 3.7,1.4 A3.2,3.2 0 0 1 -2.6,2.1 C-2.6,0.6 -1.2,-0.4 0.1,-0.3 C-0.2,-1.8 -1.2,-3.1 -2.9,-4.2Z" fill="#6cbde9"/><ellipse cx="209.50" cy="323.00" rx="3.6" ry="4.8" fill="#6cbde9"/><ellipse cx="223.50" cy="323.00" rx="3.6" ry="4.8" fill="#6cbde9"/><ellipse cx="237.50" cy="323.00" rx="3.6" ry="4.8" fill="#6cbde9"/><path transform="translate(251.50,323.00)" d="M-2.9,-4.2 C0.6,-3.6 3.7,-1.2 3.7,1.4 A3.2,3.2 0 0 1 -2.6,2.1 C-2.6,0.6 -1.2,-0.4 0.1,-0.3 C-0.2,-1.8 -1.2,-3.1 -2.9,-4.2Z" fill="#6cbde9"/><path transform="translate(265.50,323.00)" d="M-3,-4.1 H3 V-3.1 C1.3,-2.3 0.75,-1.1 0.75,0 C0.75,1.1 1.3,2.3 3,3.1 V4.1 H-3 V3.1 C-1.3,2.3 -0.75,1.1 -0.75,0 C-0.75,-1.1 -1.3,-2.3 -3,-3.1Z" fill="#6cbde9"/><path transform="translate(279.50,323.00)" d="M-2.9,-4.2 C0.6,-3.6 3.7,-1.2 3.7,1.4 A3.2,3.2 0 0 1 -2.6,2.1 C-2.6,0.6 -1.2,-0.4 0.1,-0.3 C-0.2,-1.8 -1.2,-3.1 -2.9,-4.2Z" fill="#6cbde9"/><path transform="translate(335.50,323.00)" d="M-2.9,-4.2 C0.6,-3.6 3.7,-1.2 3.7,1.4 A3.2,3.2 0 0 1 -2.6,2.1 C-2.6,0.6 -1.2,-0.4 0.1,-0.3 C-0.2,-1.8 -1.2,-3.1 -2.9,-4.2Z" fill="#6cbde9"/><path transform="translate(363.50,323.00)" d="M-2.9,-4.2 C0.6,-3.6 3.7,-1.2 3.7,1.4 A3.2,3.2 0 0 1 -2.6,2.1 C-2.6,0.6 -1.2,-0.4 0.1,-0.3 C-0.2,-1.8 -1.2,-3.1 -2.9,-4.2Z" fill="#6cbde9"/><path transform="translate(391.50,323.00)" d="M-2.9,-4.2 C0.6,-3.6 3.7,-1.2 3.7,1.4 A3.2,3.2 0 0 1 -2.6,2.1 C-2.6,0.6 -1.2,-0.4 0.1,-0.3 C-0.2,-1.8 -1.2,-3.1 -2.9,-4.2Z" fill="#6cbde9"/><path transform="translate(405.50,323.00)" d="M-2.9,-4.2 C0.6,-3.6 3.7,-1.2 3.7,1.4 A3.2,3.2 0 0 1 -2.6,2.1 C-2.6,0.6 -1.2,-0.4 0.1,-0.3 C-0.2,-1.8 -1.2,-3.1 -2.9,-4.2Z" fill="#6cbde9"/><path transform="translate(420.00,323.00)" d="M-2.9,-4.2 C0.6,-3.6 3.7,-1.2 3.7,1.4 A3.2,3.2 0 0 1 -2.6,2.1 C-2.6,0.6 -1.2,-0.4 0.1,-0.3 C-0.2,-1.8 -1.2,-3.1 -2.9,-4.2Z" fill="#6cbde9"/><path transform="translate(448.50,323.00)" d="M-2.9,-4.2 C0.6,-3.6 3.7,-1.2 3.7,1.4 A3.2,3.2 0 0 1 -2.6,2.1 C-2.6,0.6 -1.2,-0.4 0.1,-0.3 C-0.2,-1.8 -1.2,-3.1 -2.9,-4.2Z" fill="#6cbde9"/><path transform="translate(462.50,323.00)" d="M-2.9,-4.2 C0.6,-3.6 3.7,-1.2 3.7,1.4 A3.2,3.2 0 0 1 -2.6,2.1 C-2.6,0.6 -1.2,-0.4 0.1,-0.3 C-0.2,-1.8 -1.2,-3.1 -2.9,-4.2Z" fill="#6cbde9"/><path transform="translate(476.50,323.00)" d="M0,-4.8 C1,-2.8 3.3,-0.8 3.3,1.3 A3.3,3.3 0 0 1 -3.3,1.3 C-3.3,-0.8 -1,-2.8 0,-4.8Z" fill="#6cbde9"/><path transform="translate(490.50,323.00)" d="M-2.9,-4.2 C0.6,-3.6 3.7,-1.2 3.7,1.4 A3.2,3.2 0 0 1 -2.6,2.1 C-2.6,0.6 -1.2,-0.4 0.1,-0.3 C-0.2,-1.8 -1.2,-3.1 -2.9,-4.2Z" fill="#6cbde9"/><path transform="translate(630.50,323.00)" d="M-2.9,-4.2 C0.6,-3.6 3.7,-1.2 3.7,1.4 A3.2,3.2 0 0 1 -2.6,2.1 C-2.6,0.6 -1.2,-0.4 0.1,-0.3 C-0.2,-1.8 -1.2,-3.1 -2.9,-4.2Z" fill="#6cbde9"/><path transform="translate(672.50,323.00)" d="M-2.9,-4.2 C0.6,-3.6 3.7,-1.2 3.7,1.4 A3.2,3.2 0 0 1 -2.6,2.1 C-2.6,0.6 -1.2,-0.4 0.1,-0.3 C-0.2,-1.8 -1.2,-3.1 -2.9,-4.2Z" fill="#6cbde9"/><path transform="translate(714.50,323.00)" d="M-2.9,-4.2 C0.6,-3.6 3.7,-1.2 3.7,1.4 A3.2,3.2 0 0 1 -2.6,2.1 C-2.6,0.6 -1.2,-0.4 0.1,-0.3 C-0.2,-1.8 -1.2,-3.1 -2.9,-4.2Z" fill="#6cbde9"/><path transform="translate(728.50,323.00)" d="M0,-4.8 C1,-2.8 3.3,-0.8 3.3,1.3 A3.3,3.3 0 0 1 -3.3,1.3 C-3.3,-0.8 -1,-2.8 0,-4.8Z" fill="#6cbde9"/><path transform="translate(742.50,323.00)" d="M-2.9,-4.2 C0.6,-3.6 3.7,-1.2 3.7,1.4 A3.2,3.2 0 0 1 -2.6,2.1 C-2.6,0.6 -1.2,-0.4 0.1,-0.3 C-0.2,-1.8 -1.2,-3.1 -2.9,-4.2Z" fill="#6cbde9"/><path transform="translate(756.50,323.00)" d="M-2.9,-4.2 C0.6,-3.6 3.7,-1.2 3.7,1.4 A3.2,3.2 0 0 1 -2.6,2.1 C-2.6,0.6 -1.2,-0.4 0.1,-0.3 C-0.2,-1.8 -1.2,-3.1 -2.9,-4.2Z" fill="#6cbde9"/><path transform="translate(448.10,230.00)" d="M-0.91,-5.22 A5.3,5.3 0 1 0 5.27,0.57 A4.4,4.4 0 0 1 -0.91,-5.22Z" fill="#f7931e"/><path transform="translate(28.50,388.50) scale(1.2)" d="M0,-3.6 C0.8,-2.2 2.6,-0.6 2.6,1.2 A2.6,2.6 0 0 1 -2.6,1.2 C-2.6,-0.6 -0.8,-2.2 0,-3.6Z" fill="#f64a4a"/><path transform="translate(28.50,404.50) scale(0.9)" d="M0,-3.6 C0.8,-2.2 2.6,-0.6 2.6,1.2 A2.6,2.6 0 0 1 -2.6,1.2 C-2.6,-0.6 -0.8,-2.2 0,-3.6Z" fill="#f64a4a"/><circle cx="141.50" cy="388.50" r="5.0" fill="#fdd447"/><circle cx="141.50" cy="404.50" r="4.45" fill="none" stroke="#fdd85c" stroke-width="1.2"/><rect x="233.60" y="383.50" width="2.6" height="10" rx="1" fill="#8cc21a"/><rect x="239.40" y="383.50" width="2.6" height="10" rx="1" fill="#8cc21a"/><rect x="236.70" y="399.50" width="2.4" height="10" rx="1" fill="#8cc21a"/><rect x="233.60" y="414.50" width="2.6" height="10" rx="1" fill="#8cc21a"/><rect x="239.40" y="414.50" width="2.6" height="10" rx="1" fill="#c9e39a"/><path transform="translate(353.80,390.60)" d="M0,-4.2 C1,-2.6 3,-0.8 3,1.3 A3,3 0 0 1 -3,1.3 C-3,-0.8 -1,-2.6 0,-4.2Z" fill="#fff" stroke="#6cbde9" stroke-width="1"/><path transform="translate(354.00,405.60)" d="M-3,-4.1 H3 V-3.1 C1.3,-2.3 0.75,-1.1 0.75,0 C0.75,1.1 1.3,2.3 3,3.1 V4.1 H-3 V3.1 C-1.3,2.3 -0.75,1.1 -0.75,0 C-0.75,-1.1 -1.3,-2.3 -3,-3.1Z" fill="#6cbde9"/><path transform="translate(354.00,420.40)" d="M-2.9,-4.2 C0.6,-3.6 3.7,-1.2 3.7,1.4 A3.2,3.2 0 0 1 -2.6,2.1 C-2.6,0.6 -1.2,-0.4 0.1,-0.3 C-0.2,-1.8 -1.2,-3.1 -2.9,-4.2Z" fill="#6cbde9"/><path transform="translate(354.00,434.60)" d="M0,-4.8 C1,-2.8 3.3,-0.8 3.3,1.3 A3.3,3.3 0 0 1 -3.3,1.3 C-3.3,-0.8 -1,-2.8 0,-4.8Z" fill="#6cbde9"/><ellipse cx="354.00" cy="449.00" rx="3.6" ry="4.8" fill="#6cbde9"/><path transform="translate(27.00,449.50)" d="M0,4.1 C-1.2,3.4 -4.5,1.4 -4.5,-1.1 C-4.5,-2.9 -3.3,-3.8 -2.2,-3.8 C-1.1,-3.8 -0.4,-3.2 0,-2.4 C0.4,-3.2 1.1,-3.8 2.2,-3.8 C3.3,-3.8 4.5,-2.9 4.5,-1.1 C4.5,1.4 1.2,3.4 0,4.1Z" fill="#ff4fa8"/><circle cx="102.00" cy="449.50" r="4.8" fill="#c6c6c6"/><line x1="99.80" y1="451.70" x2="104.20" y2="447.30" stroke="#fff" stroke-width="1.6" stroke-linecap="round"/><path transform="translate(190.00,449.20)" d="M-0.91,-5.22 A5.3,5.3 0 1 0 5.27,0.57 A4.4,4.4 0 0 1 -0.91,-5.22Z" fill="#f7931e"/></svg>
<div class="t" style="left:23px;top:370.1px;font-size:8.6px;font-weight:700;color:#333;transform:scaleX(0.91);transform-origin:0 50%">Менструация</div>
<div class="t" style="left:38px;top:385px;font-size:7.5px;color:#333">Менструация</div>
<div class="t" style="left:38px;top:400.5px;font-size:7.5px;color:#333">Небольшие выделения</div>
<div class="t" style="left:137px;top:370.1px;font-size:8.6px;font-weight:700;color:#333;transform:scaleX(0.91);transform-origin:0 50%">Тест на овуляцию</div>
<div class="t" style="left:152px;top:385px;font-size:7.5px;color:#333">Положительный</div>
<div class="t" style="left:152px;top:400.5px;font-size:7.5px;color:#333">Отрицательный</div>
<div class="t" style="left:233px;top:370.1px;font-size:8.6px;font-weight:700;color:#333;transform:scaleX(0.91);transform-origin:0 50%">Тест на беременность</div>
<div class="t" style="left:248px;top:385px;font-size:7.5px;color:#333">Положительный</div>
<div class="t" style="left:248px;top:400.5px;font-size:7.5px;color:#333">Отрицательный</div>
<div class="t" style="left:248px;top:416px;font-size:7.5px;color:#333">Слабоположительный</div>
<div class="t" style="left:348px;top:370.1px;font-size:8.6px;font-weight:700;color:#333;transform:scaleX(0.91);transform-origin:0 50%">Цервикальная жидкость</div>
<div class="t" style="left:363px;top:386.90px;font-size:7.5px;color:#333">Сухо</div>
<div class="t" style="left:363px;top:401.70px;font-size:7.5px;color:#333">Клейкая</div>
<div class="t" style="left:363px;top:416.50px;font-size:7.5px;color:#333">Кремообразная</div>
<div class="t" style="left:363px;top:431.30px;font-size:7.5px;color:#333">Водянистая</div>
<div class="t" style="left:363px;top:446.10px;font-size:7.5px;color:#333">Яичный белок</div>
<div class="t" style="left:38px;top:446px;font-size:7.5px;color:#333">Половой акт</div>
<div class="t" style="left:111px;top:446px;font-size:7.5px;color:#333">Прием лекарств</div>
<div class="t" style="left:200px;top:446px;font-size:7.5px;color:#333">Лунный календарь</div>
</body></html>
